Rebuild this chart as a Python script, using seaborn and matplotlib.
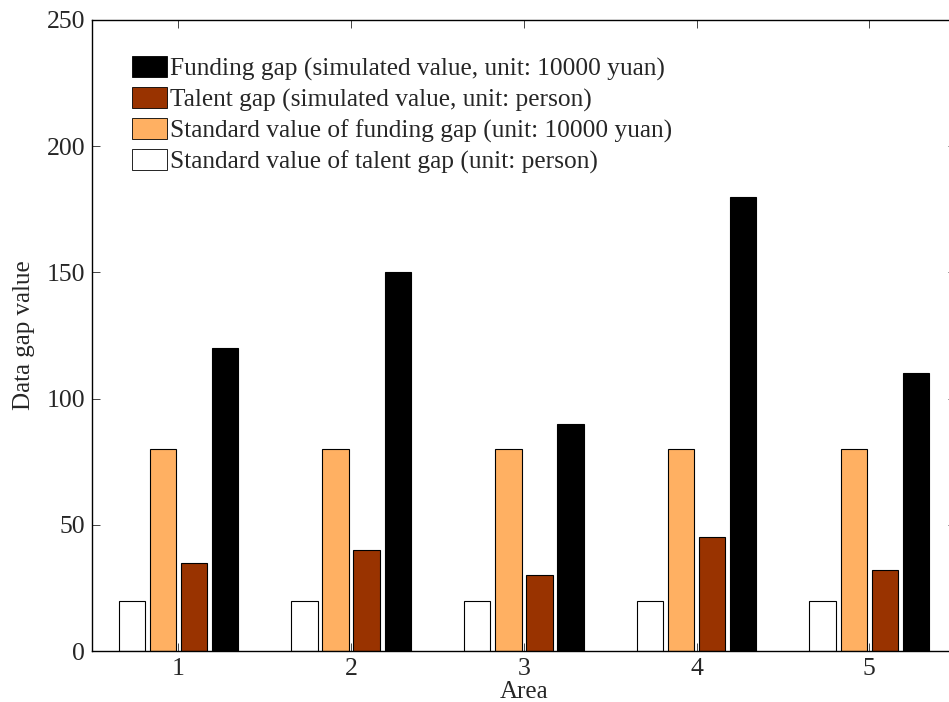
import matplotlib
matplotlib.use("Agg")
import matplotlib.pyplot as plt
import pandas as pd
import seaborn as sns
from matplotlib.patches import Patch

# data
areas = ["1", "2", "3", "4", "5"]
std_talent = [20, 20, 20, 20, 20]
std_funding = [80, 80, 80, 80, 80]
talent_gap = [35, 40, 30, 45, 32]
funding_gap = [120, 150, 90, 180, 110]

series_names = [
    "Standard value of talent gap (unit: person)",
    "Standard value of funding gap (unit: 10000 yuan)",
    "Talent gap (simulated value, unit: person)",
    "Funding gap (simulated value, unit: 10000 yuan)",
]
series_colors = ["#FFFFFF", "#FFB062", "#993300", "#000000"]

rows = []
for name, values in zip(series_names, [std_talent, std_funding, talent_gap, funding_gap]):
    for area, v in zip(areas, values):
        rows.append({"Area": area, "value": v, "series": name})
df = pd.DataFrame(rows)

sns.set_style("ticks")
plt.rcParams["font.family"] = ["Liberation Serif", "DejaVu Serif"]

fig = plt.figure(figsize=(9.49, 7.02), dpi=100)
ax = fig.add_axes([0.097, 0.0726, 0.91, 0.899])

sns.barplot(
    data=df, x="Area", y="value", hue="series", order=areas,
    hue_order=series_names, palette=series_colors, saturation=1,
    width=0.72, gap=0.15, edgecolor="black", linewidth=0.8, ax=ax, legend=False,
)

ax.set_xlim(-0.5, 4.5)
ax.set_ylim(0, 250)
ax.set_yticks([0, 50, 100, 150, 200, 250])
ax.set_xlabel("Area", fontsize=18, labelpad=1)
ax.set_ylabel("Data gap value", fontsize=18, labelpad=8)
ax.tick_params(direction="in", top=True, right=True, length=6, width=0.6,
               labelsize=18.5, pad=5)
for side in ["left", "bottom", "top", "right"]:
    ax.spines[side].set_visible(True)
    ax.spines[side].set_linewidth(1.0)
    ax.spines[side].set_color("black")

handles = [Patch(facecolor=c, edgecolor="black", linewidth=0.6) for c in series_colors]
labels = list(series_names)
ax.legend(
    handles[::-1], labels[::-1], loc="upper left",
    bbox_to_anchor=(132 / 949, 1 - 56 / 702), bbox_transform=fig.transFigure,
    frameon=False, fontsize=18.3, handlelength=1.36, handleheight=0.92,
    handletextpad=0.12, labelspacing=0.24, borderpad=0, borderaxespad=0,
)

fig.savefig("out.png", dpi=100)
